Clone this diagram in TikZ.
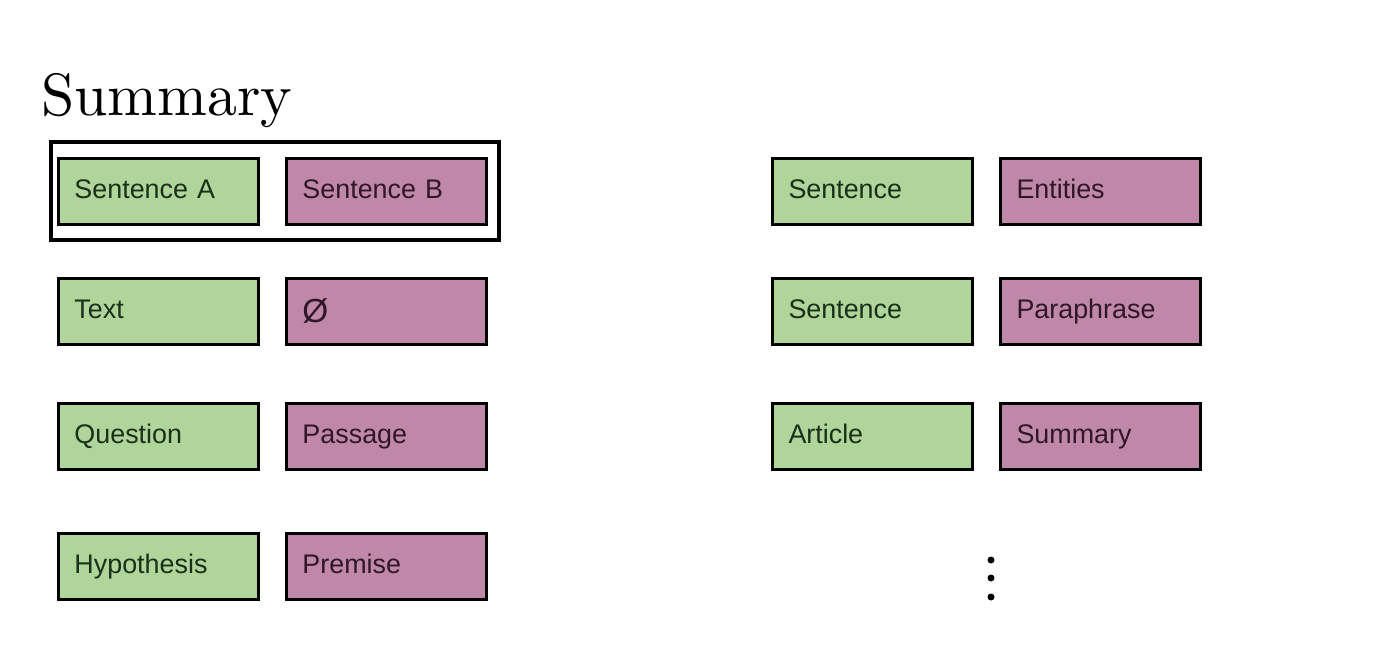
\documentclass[tikz,border=0pt]{standalone}
\usepackage{fontspec}
\setsansfont{Liberation Sans}
\definecolor{boxgreen}{RGB}{176,213,154}
\definecolor{boxpink}{RGB}{192,136,168}
\definecolor{inkgreen}{RGB}{26,48,24}
\definecolor{inkpink}{RGB}{48,22,40}
\begin{document}
\begin{tikzpicture}%
	[x=0.02cm, y=-0.02cm,
	slot/.style={draw=black, line width=1.7pt, anchor=north west, minimum width=4.0cm,
		minimum height=1.32cm, text width=3.36cm, inner xsep=0.32cm, align=left,
		text height=11pt, text depth=3pt,
		font=\sffamily\fontsize{15.3}{18}\selectfont},
	first/.style={slot, fill=boxgreen, text=inkgreen},
	second/.style={slot, fill=boxpink, text=inkpink},
	frame/.style={draw=black, line width=1.8pt},
	dot/.style={fill=black}]
%%
%% Canvas
%%
\fill[white] (0,0) rectangle (1378,672);
\node[anchor=base west, inner sep=0pt, scale=3.4, font=\fontsize{10}{12}\selectfont] (title) at (40,116) {Summary};
%%
%% Pairs on the left
%%
\draw[frame] (51,142) rectangle (499,240);
\node[first] (sa) at (57,157) {Sentence A};
\node[second] (sb) at (285,157) {Sentence B};
\node[first] (text) at (57,277) {Text};
\node[second] (empty) at (285,277) {\raisebox{-2pt}{\fontsize{19}{18}\selectfont Ø}};
\node[first] (question) at (57,402) {Question};
\node[second] (passage) at (285,402) {Passage};
\node[first] (hypothesis) at (57,532) {Hypothesis};
\node[second] (premise) at (285,532) {Premise};
%%
%% Pairs on the right
%%
\node[first] (sent1) at (771,157) {Sentence};
\node[second] (entities) at (999,157) {Entities};
\node[first] (sent2) at (771,277) {Sentence};
\node[second] (paraphrase) at (999,277) {Paraphrase};
\node[first] (article) at (771,402) {Article};
\node[second] (summary) at (999,402) {Summary};
%%
%% More to come
%%
\fill[dot] (991,560) circle (3.5);
\fill[dot] (991,578) circle (3.5);
\fill[dot] (991,597) circle (3.5);
%%
\end{tikzpicture}
\end{document}
